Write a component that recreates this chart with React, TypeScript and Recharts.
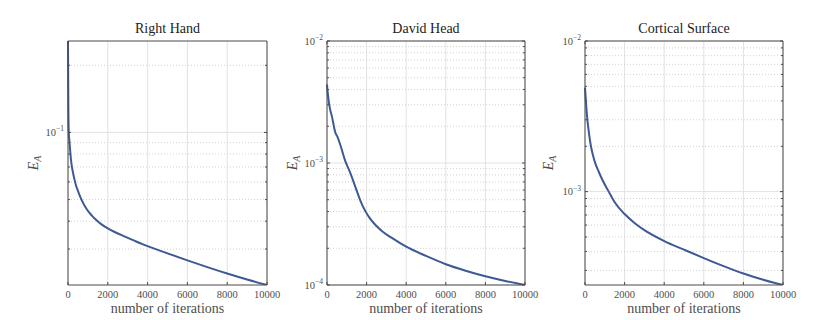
import React from 'react';
import { LineChart, Line, XAxis, YAxis, CartesianGrid, ReferenceLine } from 'recharts';

// ---------- data ----------
const iterTicks = [0, 2000, 4000, 6000, 8000, 10000];

const handIter = [0, 10, 20, 35, 70, 150, 290, 400, 540, 700, 960, 1200, 1380, 1650, 2000, 2400, 2800, 3300, 3800, 5000, 6000, 7000, 8000, 9000, 10000];
const handEA = [0.257, 0.17, 0.125, 0.102, 0.092, 0.0754, 0.0635, 0.058, 0.0535, 0.0495, 0.045, 0.0424, 0.0408, 0.0389, 0.0371, 0.0356, 0.0343, 0.0328, 0.0314, 0.0287, 0.0267, 0.0249, 0.0233, 0.0219, 0.0207];
const handMajor = [0.1];
const handMajorExp = ['\u22121'];
const handMinor = [0.03, 0.04, 0.05, 0.06, 0.07, 0.08, 0.09, 0.2];

const davidIter = [0, 50, 130, 250, 420, 520, 670, 920, 1175, 1513, 1700, 1930, 2150, 2436, 2800, 3278, 4000, 5000, 6000, 7000, 8000, 9000, 10000];
const davidEA = [4.4e-3, 3.6e-3, 2.9e-3, 2.4e-3, 1.78e-3, 1.65e-3, 1.41e-3, 1.04e-3, 8.3e-4, 5.85e-4, 4.85e-4, 4.05e-4, 3.55e-4, 3.12e-4, 2.75e-4, 2.43e-4, 2.06e-4, 1.73e-4, 1.48e-4, 1.31e-4, 1.18e-4, 1.08e-4, 1.0e-4];
const davidMajor = [1e-2, 1e-3, 1e-4];
const davidMajorExp = ['\u22122', '\u22123', '\u22124'];
const davidMinor = [2e-4, 3e-4, 4e-4, 5e-4, 6e-4, 7e-4, 8e-4, 9e-4, 2e-3, 3e-3, 4e-3, 5e-3, 6e-3, 7e-3, 8e-3, 9e-3];

const cortIter = [0, 50, 100, 200, 300, 400, 500, 700, 900, 1200, 1500, 2000, 2500, 3000, 4000, 5000, 6000, 7000, 8000, 9000, 10000];
const cortEA = [4.9e-3, 3.9e-3, 3.2e-3, 2.45e-3, 2.0e-3, 1.75e-3, 1.57e-3, 1.35e-3, 1.18e-3, 1.0e-3, 8.5e-4, 7.1e-4, 6.2e-4, 5.55e-4, 4.7e-4, 4.12e-4, 3.62e-4, 3.2e-4, 2.86e-4, 2.6e-4, 2.4e-4];
const cortMajor = [1e-2, 1e-3];
const cortMajorExp = ['\u22122', '\u22123'];
const cortMinor = [3e-4, 4e-4, 5e-4, 6e-4, 7e-4, 8e-4, 9e-4, 2e-3, 3e-3, 4e-3, 5e-3, 6e-3, 7e-3, 8e-3, 9e-3];

const titles = ['Right Hand', 'David Head', 'Cortical Surface'];
const xTitle = 'number of iterations';

// ---------- style ----------
const FONT = 'Liberation Serif, DejaVu Serif, serif';
const AXIS = '#4a4a4a';
const TXT = '#4d4d4d';
const CURVE = '#3d5a96';
const PLOT_TOP = 41;
const PLOT_BOTTOM = 285;
const H = 320;
const TOPH = 5, BOTH = 30, LW = 30, RW = 5;

type Cfg = {
  x0: number; w: number; plotL: number; plotR: number; title: string;
  iters: number[]; vals: number[]; domain: [number, number];
  majors: number[]; majorExp: string[]; minors: number[]; yLabelX: number;
};

const tStyle = (size: number, color: string, italic = false): React.CSSProperties => ({
  fontFamily: FONT,
  fontSize: size,
  fill: color,
  fontStyle: italic ? 'italic' : 'normal',
});

function Panel({ cfg }: { cfg: Cfg }) {
  const { x0, w, plotL, plotR, title, iters, vals, domain, majors, majorExp, minors, yLabelX } = cfg;
  const L = plotL - x0;
  const R = plotR - x0;
  const data = iters.map((it, i) => ({ iter: it, ea: vals[i] }));
  const inDom = (v: number) => v >= domain[0] * 0.9999 && v <= domain[1] * 1.0001;
  const minorIn = minors.filter(inDom);
  const majorIn = majors.filter(inDom);
  const yTicks = [...majorIn, ...minorIn];
  const majorIdx = (v: number) => majors.findIndex((m) => Math.abs(m - v) / m < 1e-6);

  const bottomTick = (p: any) => {
    const { x, y, payload } = p;
    return (
      <g>
        <line x1={x} y1={y} x2={x} y2={y - 3} stroke={AXIS} strokeWidth={1} />
        <text x={x} y={y + 13} textAnchor="middle" style={tStyle(10.5, TXT)}>{payload.value}</text>
      </g>
    );
  };
  const topTick = (p: any) => {
    const { x, y } = p;
    return <line x1={x} y1={y} x2={x} y2={y + 3} stroke={AXIS} strokeWidth={1} />;
  };
  const leftTick = (p: any) => {
    const { x, y, payload } = p;
    const k = majorIdx(payload.value);
    return (
      <g>
        <line x1={x} y1={y} x2={x + (k >= 0 ? 3 : 2)} y2={y} stroke={AXIS} strokeWidth={1} />
        {k >= 0 ? (
          <text x={x - 4} y={y + 3.5} textAnchor="end" style={tStyle(10.5, TXT)}>
            10<tspan style={{ fontSize: 7.5 }} dy={-4.5}>{majorExp[k]}</tspan>
          </text>
        ) : null}
      </g>
    );
  };
  const rightTick = (p: any) => {
    const { x, y, payload } = p;
    const k = majorIdx(payload.value);
    return <line x1={x} y1={y} x2={x - (k >= 0 ? 3 : 2)} y2={y} stroke={AXIS} strokeWidth={1} />;
  };

  const titleLabel = () => (
    <text x={(L + R) / 2} y={33} textAnchor="middle" style={tStyle(14, '#222')}>{title}</text>
  );
  const xLabel = () => (
    <text x={(L + R) / 2} y={313} textAnchor="middle" style={tStyle(14, TXT)}>{xTitle}</text>
  );
  const cy = (PLOT_TOP + PLOT_BOTTOM) / 2;
  const lx = yLabelX - x0;
  const yLabel = () => (
    <text transform={`rotate(-90, ${lx}, ${cy})`} x={lx} y={cy} textAnchor="middle" style={tStyle(14, TXT, true)}>
      E<tspan style={{ fontSize: 10 }} dy={3}>A</tspan>
    </text>
  );

  return (
    <div style={{ position: 'absolute', left: x0, top: 0, width: w, height: H, fontFamily: FONT }}>
      <LineChart
        width={w}
        height={H}
        data={data}
        margin={{ top: PLOT_TOP - TOPH, bottom: H - PLOT_BOTTOM - BOTH, left: L - LW, right: w - R - RW }}
      >
        <CartesianGrid horizontal={false} vertical={true} stroke="#e2e2e2" strokeWidth={1} />
        {minorIn.map((v) => (
          <ReferenceLine key={'mi' + v} yAxisId="left" y={v} stroke="#d2d2d2" strokeDasharray="1 2" strokeWidth={1} />
        ))}
        {majorIn.map((v) => (
          <ReferenceLine key={'ma' + v} yAxisId="left" y={v} stroke="#e2e2e2" strokeWidth={1} />
        ))}
        <Line
          yAxisId="left"
          type="monotone"
          dataKey="ea"
          stroke={CURVE}
          strokeWidth={2}
          dot={false}
          isAnimationActive={false}
        />
        <XAxis
          dataKey="iter"
          type="number"
          domain={[0, 10000]}
          ticks={iterTicks}
          interval={0}
          height={BOTH}
          tickSize={0}
          tickMargin={0}
          tick={bottomTick}
          axisLine={{ stroke: AXIS, strokeWidth: 1 }}
          label={xLabel}
        />
        <XAxis
          xAxisId="top"
          orientation="top"
          type="number"
          domain={[0, 10000]}
          ticks={iterTicks}
          interval={0}
          height={TOPH}
          tickSize={0}
          tickMargin={0}
          tick={topTick}
          axisLine={{ stroke: AXIS, strokeWidth: 1 }}
          label={titleLabel}
        />
        <YAxis
          yAxisId="left"
          scale="log"
          type="number"
          domain={domain}
          allowDataOverflow
          ticks={yTicks}
          interval={0}
          width={LW}
          tickSize={0}
          tickMargin={0}
          tick={leftTick}
          axisLine={{ stroke: AXIS, strokeWidth: 1 }}
          label={yLabel}
        />
        <YAxis
          yAxisId="right"
          orientation="right"
          scale="log"
          type="number"
          domain={domain}
          allowDataOverflow
          ticks={yTicks}
          interval={0}
          width={RW}
          tickSize={0}
          tickMargin={0}
          tick={rightTick}
          axisLine={{ stroke: AXIS, strokeWidth: 1 }}
        />
      </LineChart>
    </div>
  );
}

const panels: Cfg[] = [
  { x0: 0, w: 290, plotL: 68, plotR: 267, title: titles[0], iters: handIter, vals: handEA, domain: [0.0207, 0.257], majors: handMajor, majorExp: handMajorExp, minors: handMinor, yLabelX: 38 },
  { x0: 276, w: 270, plotL: 327, plotR: 525, title: titles[1], iters: davidIter, vals: davidEA, domain: [1e-4, 1e-2], majors: davidMajor, majorExp: davidMajorExp, minors: davidMinor, yLabelX: 297 },
  { x0: 536, w: 280, plotL: 585, plotR: 783, title: titles[2], iters: cortIter, vals: cortEA, domain: [2.4e-4, 1e-2], majors: cortMajor, majorExp: cortMajorExp, minors: cortMinor, yLabelX: 553 },
];

export default function App() {
  return (
    <div style={{ position: 'absolute', left: 0, top: 0, width: 816, height: 320, background: '#fff' }}>
      {panels.map((c, i) => (
        <Panel key={i} cfg={c} />
      ))}
    </div>
  );
}
